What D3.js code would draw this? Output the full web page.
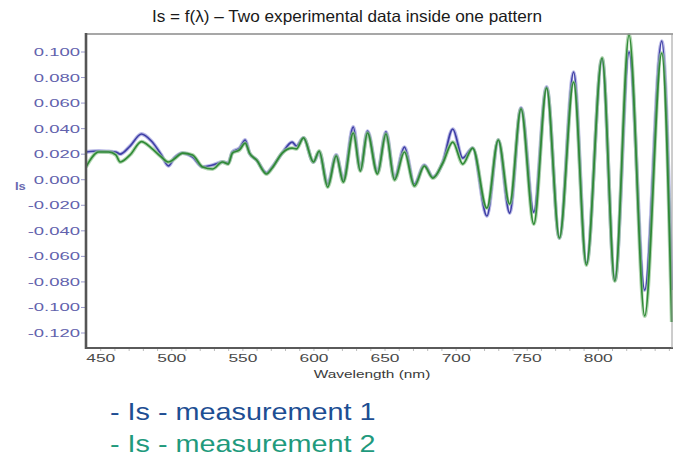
<!DOCTYPE html>
<html>
<head>
<meta charset="utf-8">
<script src="https://cdn.jsdelivr.net/npm/d3@7/dist/d3.min.js"></script>
<style>
  html, body { margin: 0; padding: 0; background: #fff; }
  svg { display: block; font-family: "Liberation Sans", Arial, Helvetica, sans-serif; }
</style>
</head>
<body>
<svg id="chart" width="673" height="465"></svg>
<script>
// Wavelength grid (nm) shared by both measurements
const wavelengths = [440, 449, 456, 461, 464, 471, 479, 486, 493, 498, 502, 508, 515, 522, 529, 536, 540, 543, 548, 552, 555, 560, 567, 571, 578, 585, 588, 593, 600, 604, 610, 616, 621, 628, 633, 638, 645, 651, 657, 664, 671, 678, 684, 691, 698, 705, 712, 722, 730, 738, 746, 755, 764, 773, 783, 792, 803, 812, 822, 833, 845, 852];

// Is - measurement 1
const measurement1 = [0.0213, 0.0221, 0.0217, 0.0213, 0.0197, 0.0260, 0.0354, 0.0299, 0.0191, 0.0104, 0.0166, 0.0205, 0.0174, 0.0096, 0.0111, 0.0135, 0.0127, 0.0213, 0.0244, 0.0307, 0.0205, 0.0150, 0.0049, 0.0096, 0.0205, 0.0291, 0.0260, 0.0323, 0.0135, 0.0213, -0.0038, 0.0190, -0.0006, 0.0409, 0.0072, 0.0377, 0.0056, 0.0370, 0.0009, 0.0252, -0.0038, 0.0111, 0.0017, 0.0135, 0.0393, 0.0166, 0.0244, -0.0288, 0.0307, -0.0265, 0.0558, -0.0257, 0.0722, -0.0460, 0.0839, -0.0656, 0.0941, -0.0789, 0.0996, -0.0868, 0.1082, -0.0868];

// Is - measurement 2
const measurement2 = [0.0096, 0.0213, 0.0213, 0.0190, 0.0135, 0.0190, 0.0295, 0.0244, 0.0174, 0.0135, 0.0158, 0.0205, 0.0190, 0.0096, 0.0080, 0.0135, 0.0119, 0.0205, 0.0229, 0.0283, 0.0205, 0.0150, 0.0041, 0.0088, 0.0205, 0.0244, 0.0237, 0.0323, 0.0135, 0.0221, -0.0061, 0.0182, -0.0022, 0.0362, 0.0064, 0.0362, 0.0041, 0.0354, -0.0006, 0.0213, -0.0053, 0.0103, 0.0009, 0.0127, 0.0291, 0.0119, 0.0244, -0.0226, 0.0307, -0.0194, 0.0550, -0.0351, 0.0714, -0.0460, 0.0761, -0.0672, 0.0949, -0.0797, 0.1129, -0.1071, 0.0988, -0.1118];

const xTicks = [450, 500, 550, 600, 650, 700, 750, 800];
const yTicks = [0.100, 0.080, 0.060, 0.040, 0.020, 0.000, -0.020, -0.040, -0.060, -0.080, -0.100, -0.120];

const titleText = "Is = f(\u03bb) \u2013 Two experimental data inside one pattern";
const legendLabels = ["- Is - measurement 1", "- Is - measurement 2"];

const svg = d3.select("#chart");
const plot = { left: 86, right: 671, top: 34, bottom: 348 };

const x = d3.scaleLinear().domain([440, 851.5]).range([plot.left, plot.right]);
const y = d3.scaleLinear().domain([0.100, -0.120]).range([51.5, 332.5]);

// Title
svg.append("text")
  .attr("transform", "translate(347,22) scale(1.04,1)")
  .attr("text-anchor", "middle")
  .attr("font-size", 16.5)
  .attr("fill", "#1a1a1a")
  .text(titleText);

// Clip for the traces
svg.append("defs").append("clipPath").attr("id", "plotClip")
  .append("rect")
  .attr("x", plot.left).attr("y", plot.top - 2)
  .attr("width", plot.right - plot.left + 2).attr("height", plot.bottom - plot.top + 2);

// Y axis (ticks and labels on the left of the frame)
const yAxis = svg.append("g")
  .attr("transform", `translate(${plot.left},0)`)
  .call(d3.axisLeft(y).tickValues(yTicks).tickFormat(d3.format(".3f")).tickSize(5).tickSizeOuter(0));
yAxis.select(".domain").remove();
yAxis.selectAll(".tick line").attr("stroke", "#9a9acc").attr("stroke-width", 1);
yAxis.selectAll(".tick text")
  .attr("x", 0).attr("dy", "0.36em")
  .attr("transform", "translate(-6,0) scale(1.68,1)")
  .attr("font-size", 11)
  .attr("font-family", "'Liberation Sans', Arial, sans-serif")
  .attr("fill", "#6262ad")
  .text(d => d3.format(".3f")(d).replace("\u2212", "-"));

// X axis (minor ticks every 10 nm, labels every 50 nm)
const xAxis = svg.append("g")
  .attr("transform", `translate(0,${plot.bottom})`)
  .call(d3.axisBottom(x).tickValues(d3.range(450, 851, 10)).tickFormat("").tickSize(3).tickSizeOuter(0));
xAxis.select(".domain").remove();
xAxis.selectAll(".tick line").attr("stroke", "#bbbbbb");

const xLabels = svg.append("g").attr("transform", `translate(0,${plot.bottom})`)
  .call(d3.axisBottom(x).tickValues(xTicks).tickFormat(d3.format("d")).tickSize(0).tickPadding(0));
xLabels.select(".domain").remove();
xLabels.selectAll(".tick text")
  .attr("y", 0).attr("dy", 0)
  .attr("transform", "translate(0,14) scale(1.58,1)")
  .attr("font-size", 11)
  .attr("font-family", "'Liberation Sans', Arial, sans-serif")
  .attr("fill", "#4a4a4a");

// Axis titles
svg.append("text")
  .attr("transform", "translate(372,378) scale(1.4,1)")
  .attr("text-anchor", "middle")
  .attr("font-size", 11)
  .attr("fill", "#3a3a3a")
  .text("Wavelength (nm)");

svg.append("text")
  .attr("transform", "translate(15,190) scale(1.3,1)")
  .attr("font-size", 10)
  .attr("font-weight", "bold")
  .attr("fill", "#6a6ab0")
  .text("Is");

// Traces
const line = (vals) => d3.line()
  .x((d, i) => x(wavelengths[i]))
  .y(d => y(d))
  .curve(d3.curveMonotoneX)(vals);

const traces = svg.append("g").attr("clip-path", "url(#plotClip)");
const series = [
  { vals: measurement1, halo: "#9c9cdc", core: "#3f3fa6" },
  { vals: measurement2, halo: "#92c492", core: "#2f8a35" }
];
series.forEach(s => {
  traces.append("path").attr("d", line(s.vals))
    .attr("fill", "none").attr("stroke", s.halo).attr("stroke-width", 3.8)
    .attr("stroke-opacity", 0.7).attr("stroke-linejoin", "round");
  traces.append("path").attr("d", line(s.vals))
    .attr("fill", "none").attr("stroke", s.core).attr("stroke-width", 1.7)
    .attr("stroke-linejoin", "round");
});

// Frame
svg.append("line").attr("x1", plot.left).attr("x2", plot.right + 2).attr("y1", plot.top).attr("y2", plot.top)
  .attr("stroke", "#8a8a8a").attr("stroke-width", 1.5);
svg.append("line").attr("x1", plot.left).attr("x2", plot.right + 2).attr("y1", plot.bottom).attr("y2", plot.bottom)
  .attr("stroke", "#5a5a5a").attr("stroke-width", 2);
svg.append("line").attr("x1", plot.right + 1).attr("x2", plot.right + 1).attr("y1", plot.top).attr("y2", plot.bottom)
  .attr("stroke", "#9a9a9a").attr("stroke-width", 1);
svg.append("line").attr("x1", plot.left).attr("x2", plot.left).attr("y1", plot.top - 1).attr("y2", plot.bottom + 1)
  .attr("stroke", "#555555").attr("stroke-width", 2.6);

// Legend
const legendColors = ["#1d4e93", "#1f9a7d"];
svg.selectAll(".legend").data(legendLabels).enter().append("text")
  .attr("class", "legend")
  .attr("transform", (d, i) => `translate(110,${420 + i * 32}) scale(1.2,1)`)
  .attr("font-size", 24)
  .attr("fill", (d, i) => legendColors[i])
  .text(d => d);
</script>
</body>
</html>
